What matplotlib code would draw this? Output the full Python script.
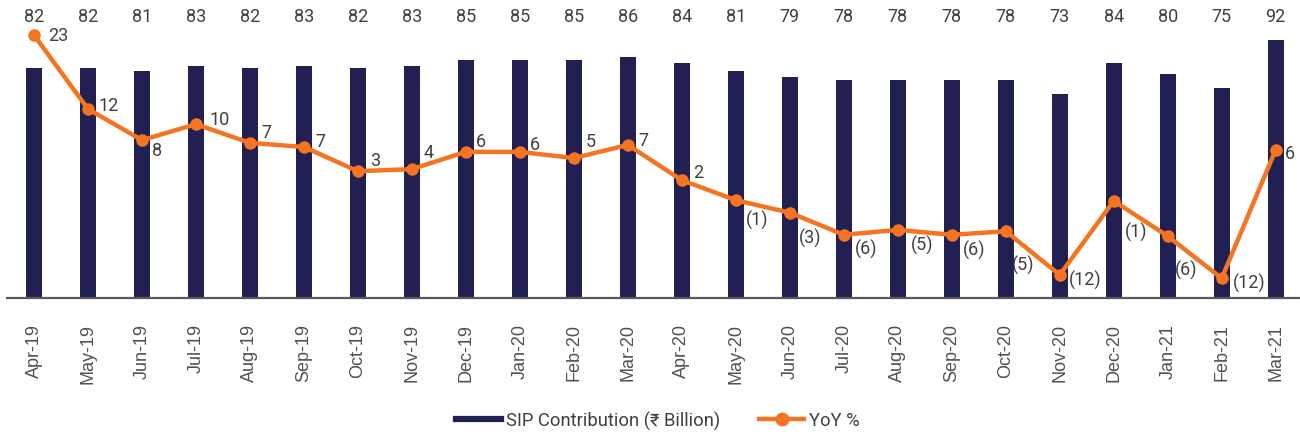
import matplotlib
matplotlib.use("Agg")
import matplotlib.pyplot as plt
from matplotlib.lines import Line2D
import numpy as np

months = ["Apr-19", "May-19", "Jun-19", "Jul-19", "Aug-19", "Sep-19", "Oct-19", "Nov-19",
          "Dec-19", "Jan-20", "Feb-20", "Mar-20", "Apr-20", "May-20", "Jun-20", "Jul-20",
          "Aug-20", "Sep-20", "Oct-20", "Nov-20", "Dec-20", "Jan-21", "Feb-21", "Mar-21"]
sip = [82, 82, 81, 83, 82, 83, 82, 83, 85, 85, 85, 86, 84, 81, 79, 78, 78, 78, 78, 73, 84, 80, 75, 92]
yoy = [23.0, 12.3, 7.8, 10.1, 7.4, 6.8, 3.3, 3.6, 6.1, 6.1, 5.2, 7.1, 2.0, -0.9, -2.7, -5.9,
       -5.2, -5.9, -5.4, -11.7, -1.0, -6.1, -12.2, 6.4]
yoy_labels = ["23", "12", "8", "10", "7", "7", "3", "4", "6", "6", "5", "7", "2", "(1)", "(3)",
              "(6)", "(5)", "(6)", "(5)", "(12)", "(1)", "(6)", "(12)", "6"]

# label offsets in pixels (dx to left edge / center, dy downward positive)
lbl_off = [(14, 0), (11, -4), (10, 10), (14, -5), (11, -11), (11, -6), (12, -11), (12, -17),
           (10, -11), (10, -8), (12, -17), (11, -5), (11, -8), (21, 19), (20, 25), (22, 14),
           (24, 14), (22, 15), (17, 33), (25, 5), (22, 31), (18, 33), (27, 4), (9, 3)]

NAVY = "#222053"
ORANGE = "#F47421"
TXT = "#404040"
FONT = ["Roboto", "DejaVu Sans"]

fig = plt.figure(figsize=(13, 4.35), dpi=100)
ax = fig.add_axes([7 / 1300, 1 - 299 / 435, 1 - 7 / 1300, (299 - 19) / 435])
x = np.arange(len(months))
ax.bar(x, sip, width=0.3, color=NAVY, zorder=2)
ax.set_ylim(0, 100)
ax.set_xlim(-0.5, 23.45)
for s in ["top", "right", "left"]:
    ax.spines[s].set_visible(False)
ax.spines["bottom"].set_color("#595959")
ax.spines["bottom"].set_linewidth(1.6)
ax.set_yticks([])
ax.set_xticks(x)
ax.set_xticklabels(months, rotation=90, fontsize=13, color="#505050",
                   family=["Liberation Sans", "DejaVu Sans"])
ax.tick_params(axis="x", length=0, pad=18)

for xi, v in zip(x, sip):
    ax.text(xi, 1 + 2 / 280, str(v), transform=ax.get_xaxis_transform(),
            ha="center", va="center", fontsize=13, color=TXT, family=FONT, clip_on=False)

ax2 = ax.twinx()
ax2.set_ylim((195 - 299) / 6.91, (195 - 19) / 6.91)
ax2.plot(x, yoy, color=ORANGE, lw=3.2, marker="o", ms=8, zorder=3, clip_on=False)
ax2.axis("off")

for xi, v, t, (dx, dy) in zip(x, yoy, yoy_labels, lbl_off):
    if t.startswith("("):
        ax2.annotate(t, (xi, v), xytext=(dx * 0.72, -dy * 0.72), textcoords="offset points",
                     ha="center", va="center", fontsize=13, color=TXT, family=FONT)
    else:
        ax2.annotate(t, (xi, v), xytext=(dx * 0.72, -dy * 0.72), textcoords="offset points",
                     ha="left", va="center", fontsize=13, color=TXT, family=FONT)

handles = [Line2D([], [], color=NAVY, lw=4.5),
           Line2D([], [], color=ORANGE, lw=3.2, marker="o", ms=9)]
fig.legend(handles, ["SIP Contribution (₹ Billion)", "YoY %"], loc="center",
           bbox_to_anchor=(658 / 1300, 1 - 421 / 435), ncol=2, frameon=False,
           prop={"family": FONT, "size": 13.2}, labelcolor=TXT, handlelength=2.45,
           columnspacing=2.1, handletextpad=0.3)

fig.savefig("out.png", dpi=100)
